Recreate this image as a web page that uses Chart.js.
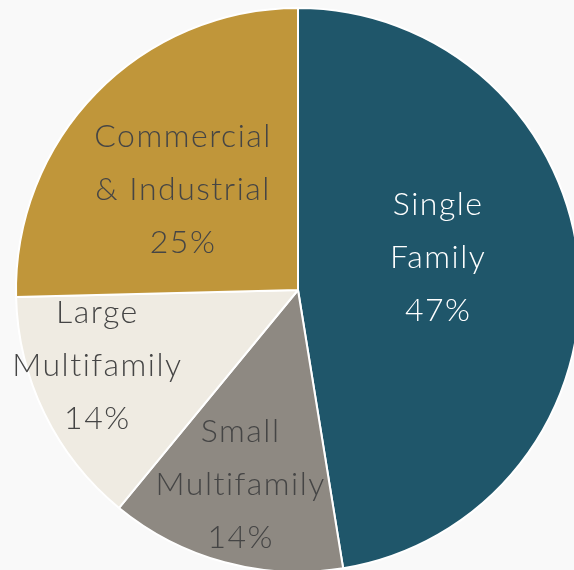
<!DOCTYPE html>
<html>
<head>
<meta charset="utf-8">
<script src="https://cdn.jsdelivr.net/npm/chart.js@4.4.1/dist/chart.umd.min.js"></script>
<style>
html,body{margin:0;padding:0;width:574px;height:570px;overflow:hidden;background:#f9f9f9;}
#wrap{position:absolute;left:-2px;top:-10px;width:600px;height:600px;}
</style>
</head>
<body>
<div id="wrap"><canvas id="c" width="600" height="600"></canvas></div>
<script>
const categories = ["Single Family", "Small Multifamily", "Large Multifamily", "Commercial & Industrial"];
const labelLines = [["Single", "Family"], ["Small", "Multifamily"], ["Large", "Multifamily"], ["Commercial", "& Industrial"]];
const values = [47.44, 13.5, 13.67, 25.39];
const percentLabels = ["47%", "14%", "14%", "25%"];
const colors = ["#1f566a", "#8e8982", "#efebe2", "#c0963a"];
const textColors = ["#ffffff", "#454545", "#454545", "#454545"];

const labelPlugin = {
  id: 'sliceLabels',
  afterDatasetsDraw(chart, args, opts) {
    const ctx = chart.ctx;
    const meta = chart.getDatasetMeta(0);
    ctx.save();
    ctx.font = '300 32px Lato, "Noto Sans", sans-serif';
    try { ctx.letterSpacing = '1.5px'; } catch (e) {}
    ctx.textAlign = 'center';
    ctx.textBaseline = 'middle';
    meta.data.forEach((arc, i) => {
      const p = opts.place[i];
      const a = p.angle * Math.PI / 180;
      const r = arc.outerRadius * p.r;
      const cx = arc.x + r * Math.cos(a);
      const cy = arc.y + r * Math.sin(a);
      const lines = labelLines[i].concat([percentLabels[i]]);
      const lh = 53;
      ctx.fillStyle = textColors[i];
      lines.forEach((t, k) => {
        ctx.fillText(t, cx, cy + (k - (lines.length - 1) / 2) * lh);
      });
    });
    ctx.restore();
  }
};

new Chart(document.getElementById('c'), {
  type: 'pie',
  data: {
    labels: categories,
    datasets: [{
      data: values,
      backgroundColor: colors,
      borderColor: '#ffffff',
      borderWidth: 2,
      hoverOffset: 0
    }]
  },
  options: {
    responsive: false,
    animation: false,
    events: [],
    radius: 282,
    layout: {padding: 0},
    plugins: {
      legend: {display: false},
      tooltip: {enabled: false},
      sliceLabels: {
        place: [
          {angle: -12.9, r: 0.51},
          {angle: 106.4, r: 0.72},
          {angle: 159.4, r: 0.76},
          {angle: -139, r: 0.54}
        ]
      }
    }
  },
  plugins: [labelPlugin]
});
</script>
</body>
</html>
